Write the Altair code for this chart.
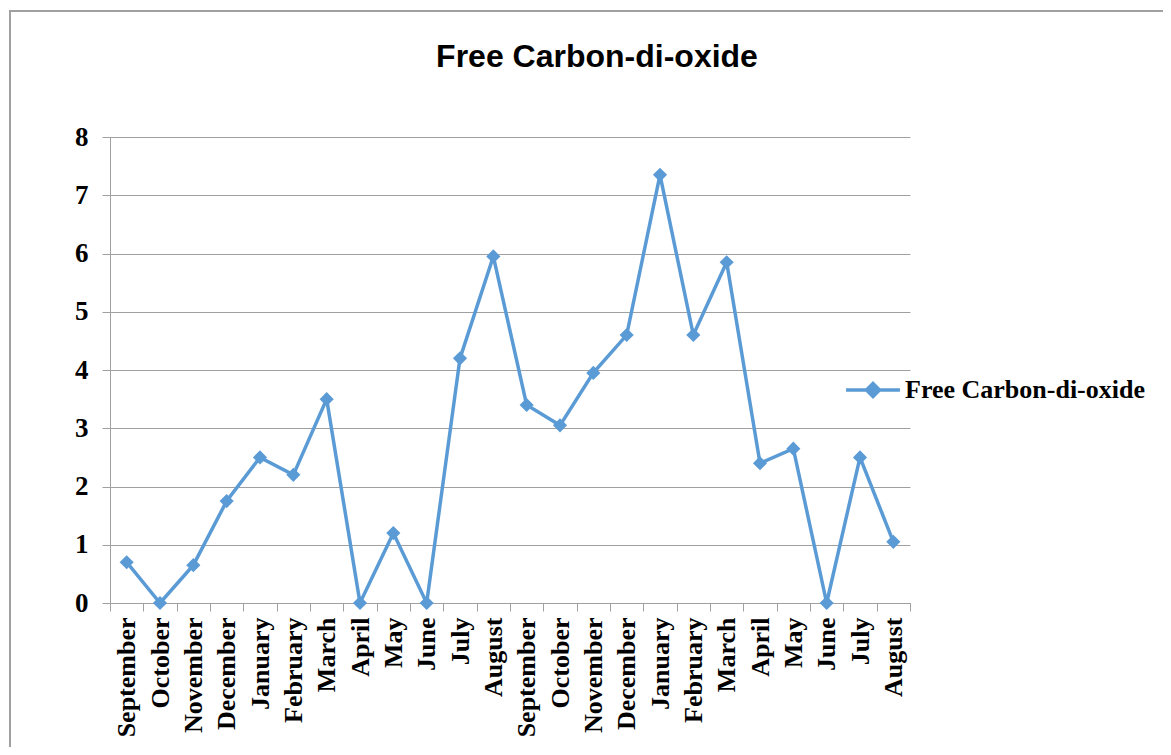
import altair as alt
import pandas as pd

months = ["September", "October", "November", "December", "January", "February",
          "March", "April", "May", "June", "July", "August",
          "September", "October", "November", "December", "January", "February",
          "March", "April", "May", "June", "July", "August"]
values = [0.7, 0.0, 0.65, 1.75, 2.5, 2.2, 3.5, 0.0, 1.2, 0.0, 4.2, 5.95,
          3.4, 3.05, 3.95, 4.6, 7.35, 4.6, 5.85, 2.4, 2.65, 0.0, 2.5, 1.05]
series_name = "Free Carbon-di-oxide"
title_text = "Free Carbon-di-oxide"
y_ticks = [0, 1, 2, 3, 4, 5, 6, 7, 8]

keys = [f"{m}|{i}" for i, m in enumerate(months)]
df = pd.DataFrame({"key": keys, "value": values, "series": [series_name] * len(values)})
title_df = pd.DataFrame({"t": [title_text]})

BLUE = "#5B9BD5"
GRID = "#A0A0A0"

x_enc = alt.X(
    "key:N", sort=keys, bandPosition=0.5,
    scale=alt.Scale(type="band", paddingInner=0, paddingOuter=0),
    axis=alt.Axis(
        title=None, labelAngle=-90, labelExpr="split(datum.label, '|')[0]",
        labelFont="Liberation Serif", labelFontWeight="bold", labelFontSize=26,
        labelColor="black", labelPadding=6, tickBand="extent", tickSize=8,
        tickColor=GRID, domainColor=GRID, grid=False, labelLimit=300,
    ),
)
y_enc = alt.Y(
    "value:Q",
    scale=alt.Scale(domain=[0, 8], nice=False, zero=True),
    axis=alt.Axis(
        title=None, values=y_ticks, format="d",
        labelFont="Liberation Serif", labelFontWeight="bold", labelFontSize=27,
        labelColor="black", labelPadding=14, tickSize=8, tickColor=GRID,
        domainColor=GRID, grid=True, gridColor=GRID,
    ),
)

line = alt.Chart(df).mark_line(color=BLUE, strokeWidth=3.5).encode(x=x_enc, y=y_enc)

points = alt.Chart(df).mark_point(shape="diamond", filled=True, size=200, opacity=1).encode(
    x=x_enc, y=y_enc,
    color=alt.Color(
        "series:N", scale=alt.Scale(range=[BLUE]),
        legend=alt.Legend(
            title=None, orient="none", legendX=734, legendY=224,
            symbolType="M-1,0L1,0M0,-0.24L0.24,0L0,0.24L-0.24,0Z",
            symbolSize=2900, symbolStrokeWidth=3.5, symbolStrokeColor=BLUE,
            symbolFillColor=BLUE, labelFont="Liberation Serif",
            labelFontWeight="bold", labelFontSize=26, labelColor="black",
            labelOffset=3, labelLimit=400,
        ),
    ),
)

frame = alt.Chart(df).mark_rect(fill=None, stroke="#A0A0A0", strokeWidth=1.5, clip=False).encode(
    x=alt.value(-100), x2=alt.value(1200), y=alt.value(-126), y2=alt.value(800)
)

title = alt.Chart(title_df).mark_text(
    font="Liberation Sans", fontSize=32, fontWeight="bold", color="black",
    align="center", baseline="alphabetic", clip=False,
).encode(text="t:N", x=alt.value(487), y=alt.value(-70))

chart = alt.layer(frame, line, points, title).properties(
    width=800, height=466,
    autosize=alt.AutoSizeParams(type="none"),
    padding={"left": 102, "top": 129, "right": 253, "bottom": 144},
).configure_view(stroke=None)

chart.save("out.html", embed_options={"renderer": "svg", "actions": False})
